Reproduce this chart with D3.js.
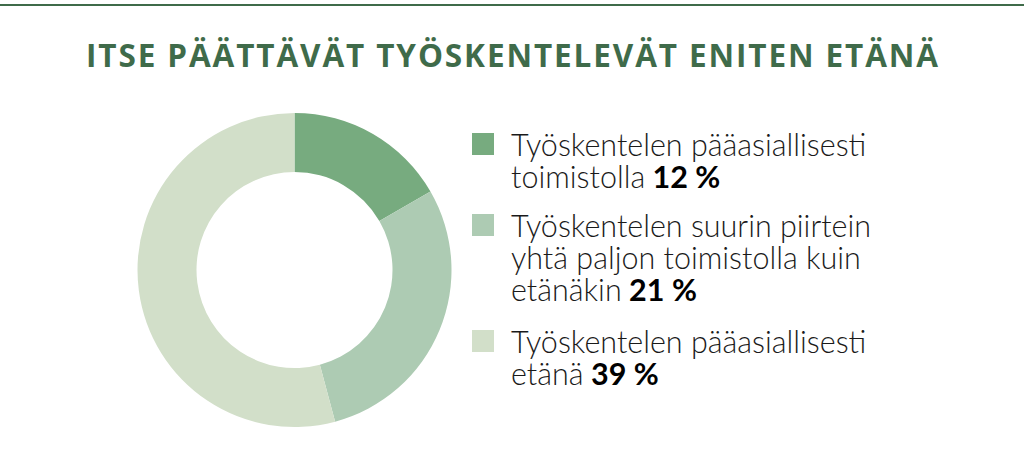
<!DOCTYPE html>
<html>
<head>
<meta charset="utf-8">
<script src="https://cdn.jsdelivr.net/npm/d3@7"></script>
<style>
  body { margin: 0; background: #fff; }
  svg { display: block; }
</style>
</head>
<body>
<svg id="chart" width="1024" height="454"></svg>
<script>
// data
var title = "ITSE PÄÄTTÄVÄT TYÖSKENTELEVÄT ENITEN ETÄNÄ";
var categories = [
  ["Työskentelen pääasiallisesti", "toimistolla"],
  ["Työskentelen suurin piirtein", "yhtä paljon toimistolla kuin", "etänäkin"],
  ["Työskentelen pääasiallisesti", "etänä"]
];
var values = [12, 21, 39];
var colors = ["#77ab7f", "#adcbb3", "#d2dfc9"];

var svg = d3.select("#chart");

// top rule
svg.append("rect").attr("x", 0).attr("y", 4).attr("width", 1024).attr("height", 2).attr("fill", "#3f6b4a");

svg.append("text")
  .attr("x", 86).attr("y", 67)
  .attr("textLength", 852)
  .attr("lengthAdjust", "spacing")
  .style("font-family", "'Open Sans', sans-serif")
  .style("font-weight", 700)
  .style("font-size", "31.5px")
  .attr("fill", "#3f6b4a")
  .text(title);

// donut
var pie = d3.pie().sort(null).value(function(d){ return d; });
var arc = d3.arc().innerRadius(98).outerRadius(157);
var g = svg.append("g").attr("transform", "translate(294.5,270)");
g.selectAll("path")
  .data(pie(values))
  .enter().append("path")
  .attr("d", arc)
  .attr("fill", function(d, i){ return colors[i]; });

// legend
var itemTop = [133, 214, 330];
var lineH = 32;
var leg = svg.append("g");
categories.forEach(function(lines, i){
  leg.append("rect")
    .attr("x", 472).attr("y", itemTop[i])
    .attr("width", 22).attr("height", 22)
    .attr("fill", colors[i]);
  lines.forEach(function(l, j){
    var t = leg.append("text")
      .attr("x", 511).attr("y", itemTop[i] + 23 + j * lineH)
      .style("font-family", "Lato, sans-serif")
      .style("font-weight", 300)
      .style("font-size", "30.5px")
      .attr("fill", "#1a1a1a");
    t.append("tspan").text(l);
    if (j == lines.length - 1) {
      t.append("tspan").style("font-weight", 700).attr("fill", "#000").text(" " + values[i] + " %");
    }
  });
});
</script>
</body>
</html>
